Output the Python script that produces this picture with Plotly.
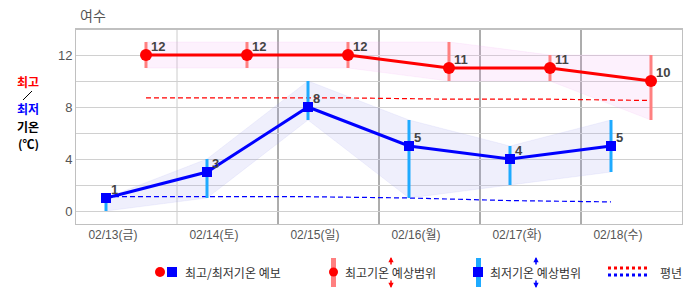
import plotly.graph_objects as go

# ---------------- data ----------------
dates = ['02/13(금)', '02/14(토)', '02/15(일)', '02/16(월)', '02/17(화)', '02/18(수)']
max_t = [12, 12, 12, 11, 11, 10]
max_lo = [11, 11, 11, 10, 10, 7]
max_hi = [13, 13, 13, 13, 12, 12]
min_t = [1, 3, 8, 5, 4, 5]
min_lo = [0, 1, 7, 1, 2, 3]
min_hi = [1, 4, 10, 7, 5, 7]
normal_max = [8.7, 8.7, 8.7, 8.6, 8.6, 8.5]
normal_min = [1.1, 1.1, 1.1, 1.0, 0.8, 0.7]
y_ticks = [0, 2, 4, 6, 8, 10, 12]
y_tick_text = ['0', '', '4', '', '8', '', '12']

# time-of-day offsets within each day column
MIN_OFF = 0.297
MAX_OFF = 0.693
LABEL_OFF = 0.366

n = len(dates)
x_min = [i + MIN_OFF for i in range(n)]
x_max = [i + MAX_OFF for i in range(n)]
x_lab = [i + LABEL_OFF for i in range(n)]

RED = '#ff0000'
BLUE = '#0000ff'
RED_BAR = '#ff8080'
BLUE_BAR = '#1eaaff'

fig = go.Figure()

# bands
fig.add_trace(go.Scatter(x=x_max + x_max[::-1], y=max_hi + max_lo[::-1], fill='toself',
                         fillcolor='rgba(240,160,240,0.15)', line=dict(width=0.5, color='rgba(240,160,240,0.25)'),
                         mode='lines', hoverinfo='skip', showlegend=False))
fig.add_trace(go.Scatter(x=x_min + x_min[::-1], y=min_hi + min_lo[::-1], fill='toself',
                         fillcolor='rgba(160,160,240,0.17)', line=dict(width=0.5, color='rgba(160,160,240,0.25)'),
                         mode='lines', hoverinfo='skip', showlegend=False))

# normals
fig.add_trace(go.Scatter(x=x_max, y=normal_max, mode='lines',
                         line=dict(color=RED, width=1.2, dash='5px,3px'), hoverinfo='skip', showlegend=False))
fig.add_trace(go.Scatter(x=x_min, y=normal_min, mode='lines',
                         line=dict(color=BLUE, width=1.2, dash='5px,3px'), hoverinfo='skip', showlegend=False))

# range bars
fig.add_trace(go.Scatter(x=x_max, y=max_t, mode='markers', marker=dict(opacity=0),
                         error_y=dict(type='data', symmetric=False,
                                      array=[h - v for h, v in zip(max_hi, max_t)],
                                      arrayminus=[v - l for v, l in zip(max_t, max_lo)],
                                      thickness=3, width=0, color=RED_BAR),
                         hoverinfo='skip', showlegend=False))
fig.add_trace(go.Scatter(x=x_min, y=min_t, mode='markers', marker=dict(opacity=0),
                         error_y=dict(type='data', symmetric=False,
                                      array=[h - v for h, v in zip(min_hi, min_t)],
                                      arrayminus=[v - l for v, l in zip(min_t, min_lo)],
                                      thickness=3, width=0, color=BLUE_BAR),
                         hoverinfo='skip', showlegend=False))

# main lines
fig.add_trace(go.Scatter(x=x_max, y=max_t, mode='lines+markers',
                         line=dict(color=RED, width=3),
                         marker=dict(symbol='circle', size=12, color=RED),
                         hoverinfo='skip', showlegend=False))
fig.add_trace(go.Scatter(x=x_min, y=min_t, mode='lines+markers',
                         line=dict(color=BLUE, width=3),
                         marker=dict(symbol='square', size=10, color=BLUE),
                         hoverinfo='skip', showlegend=False))

annotations = []
lab_font = dict(family='Liberation Sans, Arial', size=13, color='#444444')
for xs, ys in ((x_max, max_t), (x_min, min_t)):
    for xv, yv in zip(xs, ys):
        annotations.append(dict(x=xv, y=yv, xref='x', yref='y', text=f'<b>{yv}</b>',
                                showarrow=False, xanchor='left', yanchor='middle',
                                xshift=3, yshift=9, font=lab_font))

# pixel -> paper helpers
L, R, T, B = 76, 682, 29, 224
def px(x):
    return (x - L) / (R - L)
def py(y):
    return (B - y) / (B - T)

shapes = []
# vertical day separators
for i in range(1, n):
    shapes.append(dict(type='line', xref='x', yref='paper', x0=i, x1=i, y0=0, y1=1,
                       line=dict(color='#cccccc' if i == 1 else '#5a5a5a', width=1), layer='below'))
# top border thicker
shapes.append(dict(type='line', xref='paper', yref='paper', x0=0, x1=1, y0=1, y1=1,
                   line=dict(color='#c0c0c0', width=2)))

# title
annotations.append(dict(x=px(78), y=py(15), xref='paper', yref='paper', text='여수', showarrow=False,
                        xanchor='left', yanchor='middle',
                        font=dict(family='Noto Sans CJK KR', size=14, color='#555555')))

# y-axis label
ylab_font = dict(family='Noto Sans CJK KR', size=12)
for txt, yy, col in (('<b>최고</b>', 81, RED), ('<b>최저</b>', 108, BLUE),
                     ('<b>기온</b>', 126, '#000000'), ('<b>(℃)</b>', 143, '#000000')):
    annotations.append(dict(x=px(28), y=py(yy), xref='paper', yref='paper', text=txt, showarrow=False,
                            xanchor='center', yanchor='middle', font=dict(ylab_font, color=col),
                            height=15, valign='middle'))
shapes.append(dict(type='line', xref='paper', yref='paper', x0=px(23), x1=px(32), y0=py(100), y1=py(91),
                   line=dict(color='#000000', width=1)))

# legend
leg_font = dict(family='Noto Sans CJK KR', size=12, color='#333333')
LY = 272
shapes.append(dict(type='circle', xref='paper', yref='paper', x0=px(155), x1=px(165), y0=py(LY + 5), y1=py(LY - 5),
                   fillcolor=RED, line=dict(width=0)))
shapes.append(dict(type='rect', xref='paper', yref='paper', x0=px(167), x1=px(177), y0=py(LY + 5), y1=py(LY - 5),
                   fillcolor=BLUE, line=dict(width=0)))
annotations.append(dict(x=px(183), y=py(LY), xref='paper', yref='paper', text='최고/최저기온 예보',
                        showarrow=False, xanchor='left', yanchor='middle', font=leg_font))

shapes.append(dict(type='rect', xref='paper', yref='paper', x0=px(331), x1=px(336), y0=py(287), y1=py(258),
                   fillcolor=RED_BAR, line=dict(width=0)))
shapes.append(dict(type='circle', xref='paper', yref='paper', x0=px(329), x1=px(338), y0=py(LY + 4.5), y1=py(LY - 4.5),
                   fillcolor=RED, line=dict(width=0)))
annotations.append(dict(x=px(343), y=py(LY), xref='paper', yref='paper', text='최고기온 예상범위',
                        showarrow=False, xanchor='left', yanchor='middle', font=leg_font))

shapes.append(dict(type='rect', xref='paper', yref='paper', x0=px(476), x1=px(481), y0=py(287), y1=py(258),
                   fillcolor=BLUE_BAR, line=dict(width=0)))
shapes.append(dict(type='rect', xref='paper', yref='paper', x0=px(473), x1=px(483), y0=py(LY + 5), y1=py(LY - 5),
                   fillcolor=BLUE, line=dict(width=0)))
annotations.append(dict(x=px(488), y=py(LY), xref='paper', yref='paper', text='최저기온 예상범위',
                        showarrow=False, xanchor='left', yanchor='middle', font=leg_font))

for ax_x, col in ((391, RED), (536, BLUE)):
    annotations.append(dict(x=px(ax_x), y=py(257), xref='paper', yref='paper', text='', showarrow=True,
                            ax=0, ay=9, arrowhead=2, arrowsize=0.7, arrowwidth=1.5, arrowcolor=col, standoff=0))
    annotations.append(dict(x=px(ax_x), y=py(288), xref='paper', yref='paper', text='', showarrow=True,
                            ax=0, ay=-9, arrowhead=2, arrowsize=0.7, arrowwidth=1.5, arrowcolor=col, standoff=0))

shapes.append(dict(type='line', xref='paper', yref='paper', x0=px(608), x1=px(648), y0=py(268), y1=py(268),
                   line=dict(color=RED, width=3, dash='dot')))
shapes.append(dict(type='line', xref='paper', yref='paper', x0=px(608), x1=px(648), y0=py(275), y1=py(275),
                   line=dict(color=BLUE, width=3, dash='dot')))
annotations.append(dict(x=px(658), y=py(LY), xref='paper', yref='paper', text='평년',
                        showarrow=False, xanchor='left', yanchor='middle', font=leg_font))

fig.update_layout(
    width=686, height=295,
    margin=dict(l=L, r=686 - R, t=T, b=295 - B),
    paper_bgcolor='white', plot_bgcolor='white',
    showlegend=False,
    shapes=shapes, annotations=annotations,
    xaxis=dict(range=[0, n], tickvals=x_lab, ticktext=dates, showgrid=False, zeroline=False,
               showline=True, linecolor='#c0c0c0', linewidth=1, mirror=True, ticks='',
               tickfont=dict(family='Liberation Sans, Noto Sans CJK KR', size=12, color='#555555'),
               fixedrange=True),
    yaxis=dict(range=[-1, 14], tickvals=y_ticks, ticktext=y_tick_text, showgrid=True,
               gridcolor='#d0d0d0', gridwidth=1, zeroline=False,
               showline=True, linecolor='#c0c0c0', linewidth=1, mirror=True, ticks='',
               tickfont=dict(family='Liberation Sans, Arial', size=13, color='#555555'),
               fixedrange=True),
)

fig.write_html('out.html')
